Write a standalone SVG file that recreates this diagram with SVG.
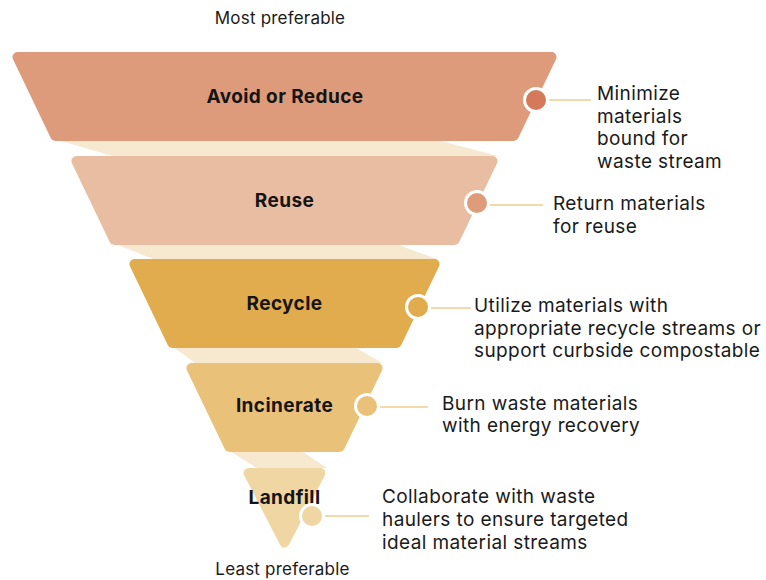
<svg xmlns="http://www.w3.org/2000/svg" width="766" height="580" viewBox="0 0 766 580">
<style>
  .tier { stroke-width: 10; stroke-linejoin: round; }
  .band { fill: #F7E9D0; }
  .lbl { font-family: Inter, "Liberation Sans", sans-serif; font-size: 19px; letter-spacing: 0.4px; font-weight: 700; fill: #141414; text-anchor: middle; }
  .desc { font-family: Inter, "Liberation Sans", sans-serif; font-size: 19px; letter-spacing: 0.4px; font-weight: 400; fill: #1a1a1a; }
  .cap { font-family: Inter, "Liberation Sans", sans-serif; font-size: 17px; letter-spacing: 0.2px; font-weight: 400; fill: #1a1a1a; text-anchor: middle; }
  .dot { stroke: #ffffff; stroke-width: 3; }
  .conn { stroke: #E8B55A; stroke-width: 1.2; fill: none; }
</style>
<rect width="766" height="580" fill="#ffffff"/>

<g id="bands">
  <polygon class="band" points="55,139 433,139 498,156 112,156"/>
  <polygon class="band" points="113,243 393,243 437,259 153,259"/>
  <polygon class="band" points="172,346 353,346 382,363 195,363"/>
  <polygon class="band" points="228,450 300,450 327,468 257,468"/>
</g>

<text class="cap" x="280" y="24">Most preferable</text>
<text class="cap" x="282.5" y="575">Least preferable</text>

<g id="connectors">
  <line class="conn" x1="549" y1="100" x2="591" y2="100"/>
  <line class="conn" x1="490" y1="205" x2="543" y2="205"/>
  <line class="conn" x1="431" y1="308" x2="471" y2="308"/>
  <line class="conn" x1="380" y1="407" x2="428" y2="407"/>
  <line class="conn" x1="325" y1="516" x2="369" y2="516"/>
</g>

<g id="node-avoid">
  <polygon class="tier" fill="#DE9B7B" stroke="#DE9B7B" points="17.5,57 551.5,57 513.6,136 55.4,136"/>
  <text class="lbl" x="285" y="103">Avoid or Reduce</text>
  <circle class="dot" cx="536" cy="100" r="11.5" fill="#D4795A"/>
  <text class="desc" x="597" y="100">Minimize</text>
  <text class="desc" x="597" y="122.5">materials</text>
  <text class="desc" x="597" y="145">bound for</text>
  <text class="desc" x="597" y="167.5">waste stream</text>
</g>

<g id="node-reuse">
  <polygon class="tier" fill="#E9BDA1" stroke="#E9BDA1" points="76.45,161 492.55,161 454.63,240 114.37,240"/>
  <text class="lbl" x="284.5" y="207">Reuse</text>
  <circle class="dot" cx="477" cy="203" r="11.5" fill="#DF9C7B"/>
  <text class="desc" x="553" y="210">Return materials</text>
  <text class="desc" x="553" y="232.5">for reuse</text>
</g>

<g id="node-recycle">
  <polygon class="tier" fill="#E0AC4D" stroke="#E0AC4D" points="134.45,264 434.55,264 396.63,343 172.37,343"/>
  <text class="lbl" x="284.5" y="310">Recycle</text>
  <circle class="dot" cx="418" cy="307" r="11.5" fill="#E0AC4D"/>
  <text class="desc" x="474" y="312">Utilize materials with</text>
  <text class="desc" x="474" y="334.5">appropriate recycle streams or</text>
  <text class="desc" x="474" y="357">support curbside compostable</text>
</g>

<g id="node-incinerate">
  <polygon class="tier" fill="#EAC178" stroke="#EAC178" points="191.45,368 377.55,368 339.63,447 229.37,447"/>
  <text class="lbl" x="284.5" y="412">Incinerate</text>
  <circle class="dot" cx="367" cy="406" r="11.5" fill="#EAC178"/>
  <text class="desc" x="442" y="410">Burn waste materials</text>
  <text class="desc" x="442" y="432">with energy recovery</text>
</g>

<g id="node-landfill">
  <polygon class="tier" fill="#F0D6A2" stroke="#F0D6A2" points="248.6,473 320.4,473 284.5,542.5"/>
  <text class="lbl" x="284.5" y="504">Landfill</text>
  <circle class="dot" cx="312" cy="516" r="11.5" fill="#F0D6A2"/>
  <text class="desc" x="382" y="503">Collaborate with waste</text>
  <text class="desc" x="382" y="526">haulers to ensure targeted</text>
  <text class="desc" x="382" y="548.5">ideal material streams</text>
</g>
</svg>
